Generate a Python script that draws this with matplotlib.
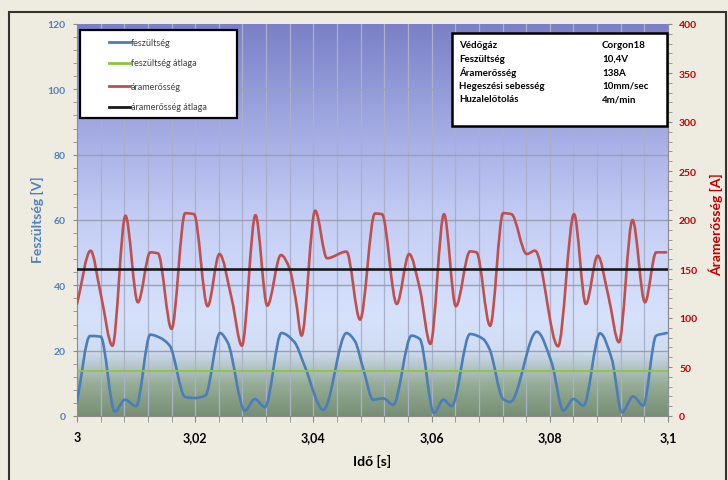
import numpy as np
import matplotlib
matplotlib.use("Agg")
import matplotlib.pyplot as plt
from matplotlib.path import Path
from matplotlib.patches import PathPatch, Rectangle
from matplotlib.lines import Line2D
from matplotlib.ticker import MultipleLocator, FuncFormatter

plt.rcParams['font.family'] = ['Lato', 'DejaVu Sans']

# ---------------- data ----------------
volt_t = [3.0000, 3.0022, 3.0040, 3.0064, 3.0081, 3.0100, 3.0124, 3.0140, 3.0157, 3.0183,
          3.0200, 3.0217, 3.0242, 3.0255, 3.0284, 3.0301, 3.0318, 3.0346, 3.0368, 3.0385,
          3.0417, 3.0456, 3.0470, 3.0485, 3.0501, 3.0518, 3.0535, 3.0566, 3.0580, 3.0604,
          3.0620, 3.0634, 3.0665, 3.0687, 3.0698, 3.0721, 3.0733, 3.0778, 3.0803, 3.0823,
          3.0840, 3.0857, 3.0885, 3.0905, 3.0922, 3.0941, 3.0958, 3.0980, 3.0998]
volt_v = [4.3, 24.5, 24.3, 1.3, 5.0, 3.0, 24.9, 24.0, 21.5, 5.8,
          5.5, 6.2, 25.4, 22.5, 1.6, 5.2, 2.7, 25.4, 22.6, 15.4,
          1.9, 25.4, 23.0, 14.0, 5.0, 5.4, 3.4, 24.6, 23.6, 0.9,
          5.0, 3.0, 25.1, 23.6, 20.5, 5.2, 4.3, 25.8, 16.4, 1.6,
          5.2, 3.2, 25.3, 17.4, 1.1, 6.0, 3.2, 24.6, 25.4]

curr_t = [3.0000, 3.0023, 3.0040, 3.0060, 3.0082, 3.0103, 3.0124, 3.0137, 3.0160, 3.0183,
          3.0198, 3.0221, 3.0241, 3.0262, 3.0279, 3.0302, 3.0322, 3.0345, 3.0360, 3.0370,
          3.0380, 3.0403, 3.0423, 3.0456, 3.0479, 3.0504, 3.0516, 3.0541, 3.0562, 3.0580,
          3.0598, 3.0621, 3.0641, 3.0665, 3.0676, 3.0699, 3.0721, 3.0735, 3.0761, 3.0775,
          3.0814, 3.0841, 3.0861, 3.0881, 3.0899, 3.0917, 3.0940, 3.0961, 3.0980, 3.0997]
curr_a = [114.3, 168.7, 125.0, 71.7, 204.4, 116.0, 167.0, 166.0, 88.8, 207.0,
          206.0, 112.0, 165.3, 119.0, 71.7, 205.0, 112.6, 164.3, 150.0, 119.4,
          82.0, 209.5, 161.0, 167.7, 98.3, 206.6, 206.0, 114.3, 165.3, 130.0,
          73.5, 206.0, 112.0, 168.0, 167.0, 92.0, 207.0, 206.0, 165.3, 168.7,
          71.1, 206.0, 114.3, 163.6, 122.8, 75.2, 200.0, 116.0, 167.0, 167.0]

volt_mean = 13.7
curr_mean = 150.0

legend_labels = ["feszültség", "feszültség átlaga", "áramerősség", "áramerősség átlaga"]
info_keys = ["Védőgáz", "Feszültség", "Áramerősség", "Hegeszési sebesség", "Huzalelőtolás"]
info_vals = ["Corgon18", "10,4V", "138A", "10mm/sec", "4m/min"]

# ---------------- style ----------------
C_BLUE = "#4a7ebb"
C_GREEN = "#8cc63e"
C_RED = "#c0504d"
C_BLACK = "#1a1a1a"
C_LBLUE_TXT = "#4f81bd"
C_RED_TXT = "#c00000"

W, H = 728, 481
fig = plt.figure(figsize=(W / 100, H / 100), dpi=100)
fig.patch.set_facecolor("#eeece1")


def fx(px):
    return px / W


def fy(py):
    return 1 - py / H


ax = fig.add_axes([fx(77), fy(417), fx(668) - fx(77), fy(25) - fy(417)])
ax2 = ax.twinx()

# gradient background
stops_f = [0.0, 0.08, 0.165, 0.25, 0.5, 0.75, 1.0]
stops_c = np.array([(118, 143, 115), (150, 172, 150), (208, 220, 242), (214, 226, 252),
                    (196, 206, 245), (160, 168, 225), (122, 128, 198)]) / 255.0
yy = np.linspace(0, 1, 400)
grad = np.stack([np.interp(yy, stops_f, stops_c[:, k]) for k in range(3)], axis=-1)[::-1][:, None, :]
ax.imshow(grad, extent=[0, 1, 0, 1], transform=ax.transAxes, aspect="auto", zorder=0,
          interpolation="bilinear")

ax.set_xlim(3.0, 3.1)
ax.set_ylim(0, 120)
ax2.set_ylim(0, 400)

# grid
for t in np.arange(3.004, 3.1, 0.004):
    ax.axvline(t, color="#aab0c8", lw=0.9, zorder=1)
for v in range(20, 120, 20):
    ax.axhline(v, color="#9c9eae", lw=1.0, zorder=1)


def smooth_path(xs, ys):
    """Bezier path through the data points with monotone (PCHIP) tangents."""
    x = np.asarray(xs, float)
    y = np.asarray(ys, float)
    n = len(x)
    h = np.diff(x)
    d = np.diff(y) / h
    m = np.zeros(n)
    m[0] = d[0]
    m[-1] = d[-1]
    for i in range(1, n - 1):
        if d[i - 1] * d[i] <= 0:
            m[i] = 0.0
        else:
            w1 = 2 * h[i] + h[i - 1]
            w2 = h[i] + 2 * h[i - 1]
            m[i] = (w1 + w2) / (w1 / d[i - 1] + w2 / d[i])
    verts = [(x[0], y[0])]
    codes = [Path.MOVETO]
    for i in range(n - 1):
        dx = h[i] / 3.0
        verts += [(x[i] + dx, y[i] + m[i] * dx),
                  (x[i + 1] - dx, y[i + 1] - m[i + 1] * dx),
                  (x[i + 1], y[i + 1])]
        codes += [Path.CURVE4] * 3
    return Path(verts, codes)


ax.add_patch(PathPatch(smooth_path(volt_t, volt_v), fill=False, edgecolor=C_BLUE, lw=1.9,
                       zorder=3, capstyle="round", joinstyle="round"))
ax.axhline(volt_mean, color=C_GREEN, lw=1.3, zorder=3)
ax2.add_patch(PathPatch(smooth_path(curr_t, curr_a), fill=False, edgecolor=C_RED, lw=1.9,
                        zorder=3, capstyle="round", joinstyle="round"))
ax2.axhline(curr_mean, color=C_BLACK, lw=1.9, zorder=4)

# spines/ticks
for a in (ax, ax2):
    a.spines["top"].set_visible(False)
    for s in ("left", "right", "bottom"):
        a.spines[s].set_color("#8c8c8c")
ax.spines["right"].set_visible(False)
ax2.spines["left"].set_visible(False)
ax2.spines["bottom"].set_visible(False)

ax.xaxis.set_major_locator(MultipleLocator(0.02))
ax.xaxis.set_minor_locator(MultipleLocator(0.004))
ax.yaxis.set_major_locator(MultipleLocator(20))
ax.yaxis.set_minor_locator(MultipleLocator(4))
ax2.yaxis.set_major_locator(MultipleLocator(50))
ax2.yaxis.set_minor_locator(MultipleLocator(10))

ax.xaxis.set_major_formatter(FuncFormatter(lambda v, p: f"{v:.2f}".rstrip("0").rstrip(".").replace(".", ",")))
ax.tick_params(axis="x", which="both", length=4, color="#8c8c8c", direction="out")
ax.tick_params(axis="x", which="major", labelsize=9, pad=7, labelcolor="black")
ax.tick_params(axis="y", which="both", length=3, color="#8c8c8c")
ax.tick_params(axis="y", which="major", labelsize=7.5, labelcolor=C_LBLUE_TXT, pad=5)
ax2.tick_params(axis="y", which="both", length=3, color="#8c8c8c")
ax2.tick_params(axis="y", which="major", labelsize=7.5, labelcolor=C_RED_TXT, pad=5)
for lab in ax.get_xticklabels() + ax.get_yticklabels() + ax2.get_yticklabels():
    lab.set_fontweight("bold")

ax.set_ylabel("Feszültség [V]", color=C_LBLUE_TXT, fontsize=10, fontweight="bold")
ax2.set_ylabel("Áramerősség [A]", color=C_RED_TXT, fontsize=10, fontweight="bold", rotation=90)
ax.yaxis.set_label_coords((37 - 77) / 591, (417 - 220) / 392)
ax2.yaxis.set_label_coords((716 - 77) / 591, (417 - 225) / 392)
ax.yaxis.label.set_va("center")
ax2.yaxis.label.set_va("center")
ax.set_xlabel("Idő [s]", fontsize=10, fontweight="bold", labelpad=8)

# outer frame
fig.patches.append(Rectangle((fx(9), fy(490)), fx(726) - fx(9), fy(13) - fy(490),
                             transform=fig.transFigure, fill=False, edgecolor="#333333",
                             lw=1.5, zorder=10))

# legend box (manual)
fig.patches.append(Rectangle((fx(80), fy(119)), fx(237) - fx(80), fy(31) - fy(119),
                             transform=fig.transFigure, facecolor="white", edgecolor="black",
                             lw=1.6, zorder=20))
leg_colors = [C_BLUE, C_GREEN, C_RED, C_BLACK]
leg_rows = [43, 64, 87, 108]
for lab, col, ry in zip(legend_labels, leg_colors, leg_rows):
    fig.lines.append(Line2D([fx(109), fx(130)], [fy(ry), fy(ry)], transform=fig.transFigure,
                            color=col, lw=2, zorder=21))
    fig.text(fx(131), fy(ry + 2.5), lab, fontsize=6.5, color="#404040", va="baseline",
             ha="left", zorder=22)

# info box
fig.patches.append(Rectangle((fx(452), fy(127)), fx(667) - fx(452), fy(34) - fy(127),
                             transform=fig.transFigure, facecolor="white", edgecolor="black",
                             lw=1.8, zorder=20))
info_rows = [48.5, 62, 75.5, 89, 102.5]
for k, v, ry in zip(info_keys, info_vals, info_rows):
    fig.text(fx(459), fy(ry), k, fontsize=7, fontweight="bold", color="black", va="baseline", zorder=22)
    fig.text(fx(602), fy(ry), v, fontsize=7, fontweight="bold", color="black", va="baseline", zorder=22)

fig.savefig("out.png", dpi=100, facecolor=fig.get_facecolor())
